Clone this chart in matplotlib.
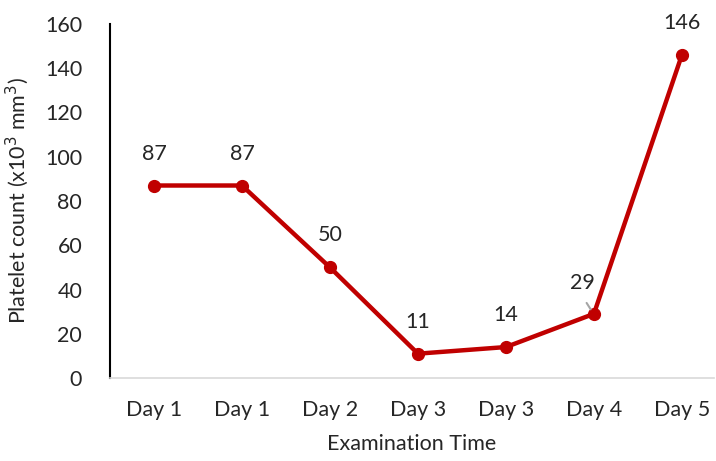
import matplotlib
matplotlib.use("Agg")
import matplotlib.pyplot as plt

categories = ["Day 1", "Day 1", "Day 2", "Day 3", "Day 3", "Day 4", "Day 5"]
values = [87, 87, 50, 11, 14, 29, 146]
yticks = [0, 20, 40, 60, 80, 100, 120, 140, 160]

plt.rcParams['font.family'] = ['Lato', 'DejaVu Sans']
FS = 15.5
TC = "#262626"
fig = plt.figure(figsize=(7.16, 4.61), dpi=100)
ax = fig.add_axes([0.1536, 0.18, 0.843, 0.768])

x = list(range(len(categories)))
ax.plot(x, values, color="#C00000", lw=3.2, marker="o", ms=8.5, zorder=3, clip_on=False)

for i, v in enumerate(values):
    if v == 29:
        ax.annotate(str(v), xy=(i, v), xytext=(-8, 22), textcoords="offset points",
                    ha="center", va="center", fontsize=FS, color=TC)
        ax.annotate("", xy=(i - 0.02, v + 1.0), xytext=(i - 0.1, v + 6),
                    arrowprops=dict(arrowstyle="-", color="#A6A6A6", lw=1.5))
    else:
        ax.annotate(str(v), xy=(i, v), xytext=(0, 23), textcoords="offset points",
                    ha="center", va="center", fontsize=FS, color=TC)

ax.set_xlim(-0.5, 6.36)
ax.set_ylim(0, 160)
ax.set_yticks(yticks)
ax.set_xticks(x)
ax.set_xticklabels(categories)
ax.tick_params(axis="both", length=0, labelsize=FS, colors=TC)
ax.tick_params(axis="x", pad=16)
ax.tick_params(axis="y", pad=20)

for s in ["top", "right"]:
    ax.spines[s].set_visible(False)
ax.spines["left"].set_color("black")
ax.spines["left"].set_linewidth(1.5)
ax.spines["bottom"].set_color("#D9D9D9")
ax.spines["bottom"].set_linewidth(1.2)

ax.set_xlabel("Examination Time", fontsize=FS, color=TC, labelpad=10)
ax.set_ylabel("Platelet count (x10$^3$ mm$^3$)", fontsize=FS, color=TC, labelpad=10)

fig.savefig("out.png", dpi=100)
